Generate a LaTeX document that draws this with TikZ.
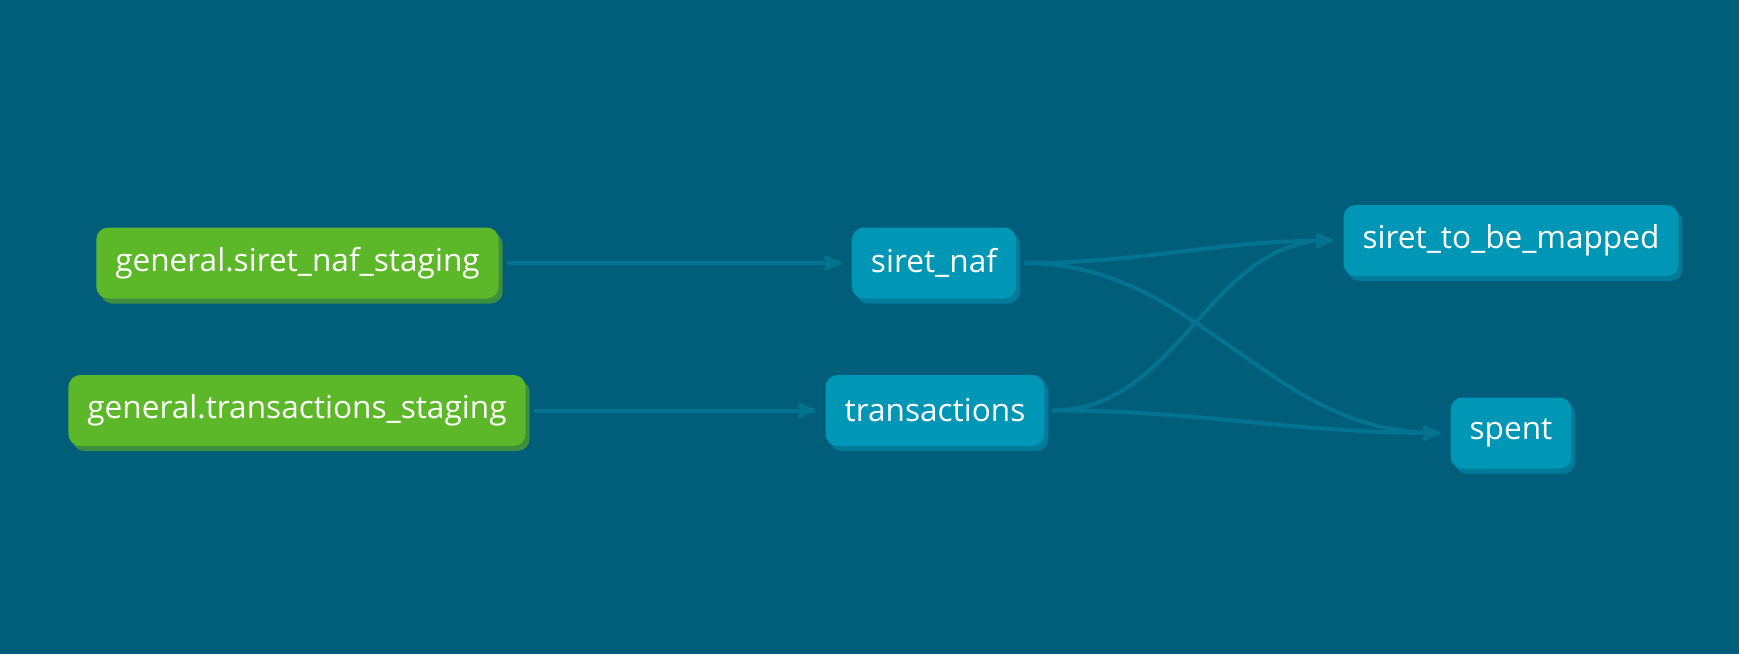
\documentclass[tikz,border=0pt]{standalone}
\usepackage{tikz}
\usetikzlibrary{arrows,shadows}
\usepackage{xcolor}
\usepackage{fontspec}
\setmainfont{Open Sans}

\definecolor{bgblue}{HTML}{005E7B}
\definecolor{srcgreen}{HTML}{5DB829}
\definecolor{srcshade}{HTML}{3D8E3E}
\definecolor{mdlblue}{HTML}{0096B5}
\definecolor{mdlshade}{HTML}{007B99}
\definecolor{edgeblue}{HTML}{03738F}

\begin{document}
\begin{tikzpicture}[x=0.5pt,y=-0.5pt,->,>=stealth',shorten >=4pt,shorten <=3pt,line width=2pt,draw=edgeblue]
    \tikzstyle{every node}=[rectangle,rounded corners=6pt,draw=none,text=white,font=\fontsize{15.8}{18}\selectfont,
                            minimum height=35.5pt,inner xsep=9.5pt]
    \tikzstyle{source}=[fill=srcgreen,drop shadow={shadow xshift=2pt,shadow yshift=-2.5pt,fill=srcshade,opacity=1}]
    \tikzstyle{model}=[fill=mdlblue,drop shadow={shadow xshift=2pt,shadow yshift=-2.5pt,fill=mdlshade,opacity=1}]

    \fill[bgblue] (0,0) rectangle (1739,654);

    \node[source] (siretstaging) at (297.5,263)  {general.siret\_naf\_staging};
    \node[source] (transstaging) at (297,410.5)  {general.transactions\_staging};
    \node[model]  (siretnaf)     at (934,263)    {siret\_naf};
    \node[model]  (trans)        at (935,410.5)  {transactions};
    \node[model]  (tobemapped)   at (1511,240.5) {siret\_to\_be\_mapped};
    \node[model]  (spent)        at (1511,433)   {spent};

    \path (siretstaging) edge                 (siretnaf)
          (transstaging) edge                 (trans)
          (siretnaf)     edge[out=0,in=180]   (tobemapped.west)
                         edge[out=0,in=180]   (spent.west)
          (trans)        edge[out=0,in=180]   (tobemapped.west)
                         edge[out=0,in=180]   (spent.west);
\end{tikzpicture}
\end{document}
